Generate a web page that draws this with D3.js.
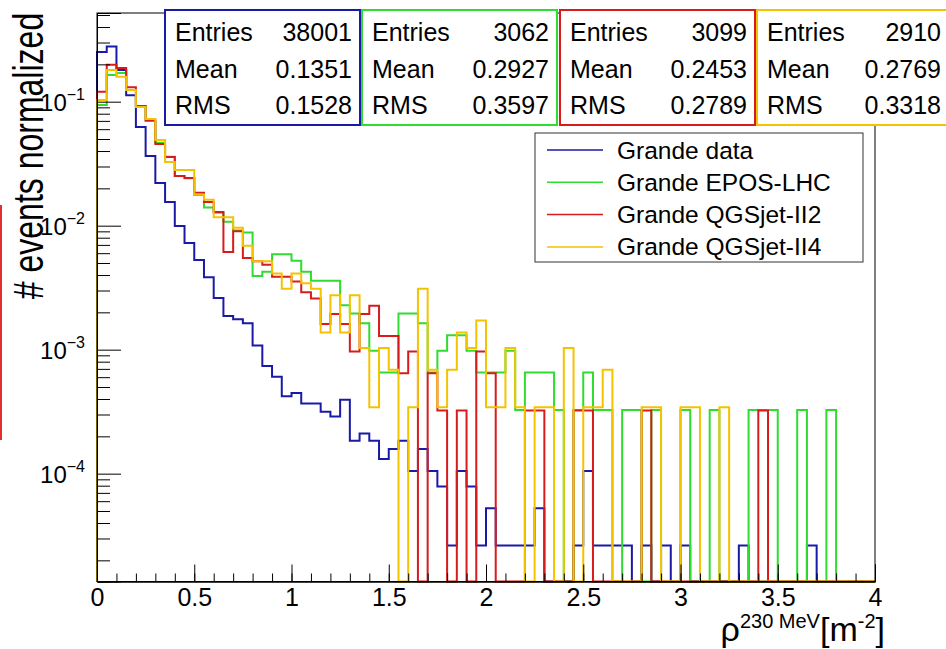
<!DOCTYPE html>
<html>
<head>
<meta charset="utf-8">
<script src="https://cdn.jsdelivr.net/npm/d3@7/dist/d3.min.js"></script>
<style>
  html, body { margin: 0; padding: 0; background: #ffffff; }
  svg { display: block; font-family: "Liberation Sans", Arial, Helvetica, sans-serif; }
</style>
</head>
<body>
<svg id="chart" width="946" height="649"></svg>
<script>
// Histogram binning: 80 bins of width 0.05 between 0 and 4
const binLow = 0, binHigh = 4, nBins = 80;

// Bin contents (raw counts) for each sample
const countsData = [9570, 10570, 6840, 4290, 2375, 1387, 840, 589, 378, 275, 201, 146, 99, 71, 67, 62, 41, 28, 23, 16,
  17, 14, 14, 12, 11, 15, 7, 8, 7, 5, 6, 7, 4, 6, 4, 3, 1, 4, 3, 1,
  2, 1, 1, 1, 1, 2, 0, 0, 0, 1, 4, 1, 1, 1, 1, 0, 1, 0, 1, 0,
  1, 0, 0, 0, 0, 0, 1, 0, 0, 0, 0, 0, 0, 1, 0, 0, 0, 0, 0, 0];
const countsEpos = [288, 502, 521, 380, 283, 218, 143, 110, 77, 74, 54, 43, 39, 33, 28, 27, 12, 13, 18, 18,
  16, 13, 11, 11, 11, 7, 6, 5, 3, 2, 2, 6, 6, 5, 2, 3, 4, 4, 3, 2,
  2, 2, 3, 1, 2, 2, 2, 1, 0, 1, 2, 1, 1, 0, 1, 1, 0, 1, 0, 0,
  1, 0, 0, 1, 0, 0, 0, 1, 1, 1, 0, 0, 1, 0, 0, 1, 0, 0, 0, 0];
const countsQgs2 = [373, 614, 580, 406, 286, 217, 141, 111, 78, 75, 57, 48, 40, 19, 28, 17, 16, 15, 12, 12,
  11, 9, 8, 5, 6, 5, 3, 6, 7, 4, 4, 2, 3, 0, 2, 1, 0, 1, 0, 3,
  2, 0, 0, 0, 1, 1, 0, 0, 0, 1, 1, 0, 0, 0, 0, 0, 1, 0, 0, 0,
  0, 0, 0, 0, 0, 0, 0, 0, 1, 0, 0, 0, 0, 0, 0, 0, 0, 0, 0, 0];
const countsQgs4 = [300, 524, 462, 361, 264, 211, 143, 95, 82, 82, 52, 47, 34, 34, 28, 20, 15, 15, 12, 9,
  12, 10, 9, 4, 8, 4, 8, 3, 1, 3, 2, 0, 1, 9, 2, 1, 2, 4, 3, 5,
  1, 1, 3, 1, 0, 1, 1, 0, 3, 0, 1, 1, 2, 0, 0, 0, 1, 1, 0, 0,
  1, 1, 0, 0, 1, 0, 0, 0, 0, 0, 0, 0, 0, 0, 0, 0, 0, 0, 0, 0];

// Statistics boxes
const seriesNames = ["Grande data", "Grande EPOS-LHC", "Grande QGSjet-II2", "Grande QGSjet-II4"];
const seriesColors = ["#1a1aa6", "#2fdc2f", "#d81c1c", "#f4c300"];
const statEntries = [38001, 3062, 3099, 2910];
const statMean = ["0.1351", "0.2927", "0.2453", "0.2769"];
const statRMS = ["0.1528", "0.3597", "0.2789", "0.3318"];

// Axis ticks and labels
const xTickLabels = ["0", "0.5", "1", "1.5", "2", "2.5", "3", "3.5", "4"];
const xTickValues = [0, 0.5, 1, 1.5, 2, 2.5, 3, 3.5, 4];
const yDecades = [-1, -2, -3, -4];
const yMin = 1.35e-5, yMax = 0.519;

const svg = d3.select("#chart");

const frame = { left: 97, right: 875, top: 13, bottom: 581.5 };

const x = d3.scaleLinear().domain([binLow, binHigh]).range([frame.left, frame.right]);
const y = d3.scaleLog().domain([yMin, yMax]).range([frame.bottom, frame.top]).clamp(true);

const binWidth = (binHigh - binLow) / nBins;

// Build an outlined step histogram path (ROOT "HIST" style)
function histPath(counts, entries) {
  const pts = [[x(binLow), frame.bottom]];
  counts.forEach((c, i) => {
    const v = c / entries;
    const yy = c > 0 ? y(v) : frame.bottom;
    pts.push([x(binLow + i * binWidth), yy]);
    pts.push([x(binLow + (i + 1) * binWidth), yy]);
  });
  pts.push([x(binHigh), frame.bottom]);
  return d3.line()(pts);
}

const allCounts = [countsData, countsEpos, countsQgs2, countsQgs4];

// Histograms
const plot = svg.append("g");
allCounts.forEach((counts, k) => {
  plot.append("path")
    .attr("d", histPath(counts, statEntries[k]))
    .attr("fill", "none")
    .attr("stroke", seriesColors[k])
    .attr("stroke-width", 2)
    .attr("stroke-linejoin", "miter");
});

// Frame
svg.append("rect")
  .attr("x", frame.left).attr("y", frame.top)
  .attr("width", frame.right - frame.left).attr("height", frame.bottom - frame.top)
  .attr("fill", "none").attr("stroke", "#000").attr("stroke-width", 1);

// X axis: major and minor ticks pointing into the frame
const xMinor = d3.range(0, 41).map(i => i * 0.1);
const xAxisMinor = svg.append("g").attr("transform", `translate(0,${frame.bottom})`)
  .call(d3.axisBottom(x).tickValues(xMinor).tickSize(-8).tickFormat(""));
const xAxisMajor = svg.append("g").attr("transform", `translate(0,${frame.bottom})`)
  .call(d3.axisBottom(x).tickValues(xTickValues).tickSize(-17)
    .tickFormat((d, i) => xTickLabels[i]).tickPadding(7));
[xAxisMinor, xAxisMajor].forEach(g => {
  g.select(".domain").attr("stroke", "#000");
  g.selectAll(".tick line").attr("stroke", "#000").attr("stroke-width", 1);
});
xAxisMajor.selectAll(".tick text")
  .attr("font-size", 25).attr("fill", "#000")
  .attr("font-family", "'Liberation Sans', Arial, sans-serif");

// Y axis (log): decade ticks longer, 2..9 minor ticks
const yMinorVals = [];
for (let e = -5; e <= 0; e++) {
  for (let m = 2; m <= 9; m++) {
    const v = m * Math.pow(10, e);
    if (v >= yMin && v <= yMax) yMinorVals.push(v);
  }
}
const yMajorVals = yDecades.map(e => Math.pow(10, e));
const yAxisMinor = svg.append("g").attr("transform", `translate(${frame.left},0)`)
  .call(d3.axisLeft(y).tickValues(yMinorVals).tickSize(-13).tickFormat(""));
const yAxisMajor = svg.append("g").attr("transform", `translate(${frame.left},0)`)
  .call(d3.axisLeft(y).tickValues(yMajorVals).tickSize(-24).tickFormat(""));
[yAxisMinor, yAxisMajor].forEach(g => {
  g.select(".domain").attr("stroke", "#000");
  g.selectAll(".tick line").attr("stroke", "#000").attr("stroke-width", 1);
});

// Y tick labels: 10^n
yDecades.forEach(e => {
  const t = svg.append("text")
    .attr("x", 85).attr("y", y(Math.pow(10, e)) + 9)
    .attr("text-anchor", "end")
    .attr("font-size", 24).attr("fill", "#000");
  t.append("tspan").text("10");
  t.append("tspan").attr("font-size", 16).attr("dy", -11).text("\u2212" + Math.abs(e));
});

// Y axis title
svg.append("text")
  .attr("transform", `translate(43,156) rotate(-90) scale(1,1.3)`)
  .attr("text-anchor", "middle")
  .attr("font-size", 32).attr("fill", "#000")
  .text("# events normalized");

// Thin red marker along the left page edge
svg.append("line")
  .attr("x1", 1).attr("x2", 1).attr("y1", 205).attr("y2", 440)
  .attr("stroke", "#e03030").attr("stroke-width", 2);

// X axis title: rho^{230 MeV} [m^{-2}]
const xt = svg.append("text")
  .attr("x", 885).attr("y", 641)
  .attr("text-anchor", "end")
  .attr("font-size", 34).attr("fill", "#000");
xt.append("tspan").text("\u03c1");
xt.append("tspan").attr("font-size", 20).attr("dy", -13).text("230 MeV");
xt.append("tspan").attr("dy", 13).text("[m");
xt.append("tspan").attr("font-size", 20).attr("dy", -13).text("-2");
xt.append("tspan").attr("dy", 13).text("]");

// Statistics boxes
const boxW = [195, 195, 195, 192], boxTop = 10, boxH = 115;
const boxX = [165, 362, 560, 757];
statEntries.forEach((n, k) => {
  const g = svg.append("g").attr("transform", `translate(${boxX[k]},${boxTop})`);
  g.append("rect").attr("width", boxW[k]).attr("height", boxH)
    .attr("fill", "#fff").attr("stroke", seriesColors[k]).attr("stroke-width", 2);
  const rows = [["Entries", String(n)], ["Mean", statMean[k]], ["RMS", statRMS[k]]];
  rows.forEach((r, j) => {
    const yy = 31 + j * 36.5;
    g.append("text").attr("x", 10).attr("y", yy)
      .attr("font-size", 25).attr("fill", "#000").text(r[0]);
    g.append("text").attr("x", boxW[k] - 8).attr("y", yy)
      .attr("text-anchor", "end")
      .attr("font-size", 25).attr("fill", "#000").text(r[1]);
  });
});

// Legend
const leg = svg.append("g").attr("transform", "translate(535,133)");
leg.append("rect").attr("width", 328).attr("height", 129)
  .attr("fill", "#fff").attr("stroke", "#333").attr("stroke-width", 1);
seriesNames.forEach((name, k) => {
  const yy = 17 + k * 32.3;
  leg.append("line").attr("x1", 12).attr("x2", 68).attr("y1", yy).attr("y2", yy)
    .attr("stroke", seriesColors[k]).attr("stroke-width", 1.5);
  leg.append("text").attr("x", 82).attr("y", yy + 8.5)
    .attr("font-size", 24.5).attr("fill", "#000").text(name);
});
</script>
</body>
</html>
